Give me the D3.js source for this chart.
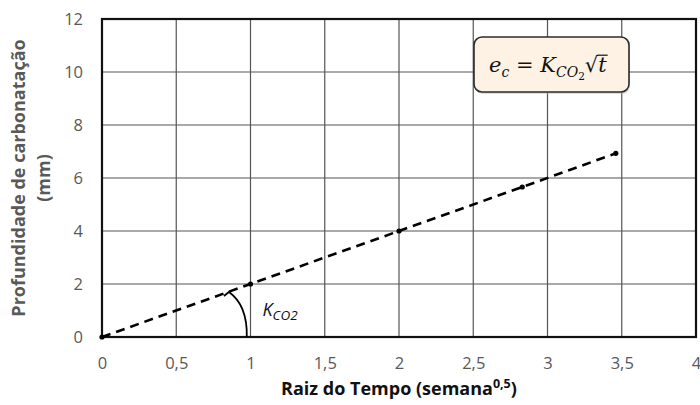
<!DOCTYPE html>
<html>
<head>
<meta charset="utf-8">
<script src="https://cdn.jsdelivr.net/npm/d3@7"></script>
<style>
  html, body { margin: 0; padding: 0; background: #fff; }
  svg { display: block; }
</style>
</head>
<body>
<svg id="chart" width="700" height="405"></svg>
<script>
// Carbonation depth vs. square root of exposure time (weeks)
const sqrtWeeks = [0, 1, 2, 2.83, 3.46];
const depthMm   = [0, 2, 4, 5.66, 6.93];
const xTicks = [0, 0.5, 1, 1.5, 2, 2.5, 3, 3.5, 4];
const yTicks = [0, 2, 4, 6, 8, 10, 12];
const xTickLabels = ["0", "0,5", "1", "1,5", "2", "2,5", "3", "3,5", "4"];

const svg = d3.select("#chart");
const margin = { left: 102, right: 4, top: 19, bottom: 68 };
const W = 700, H = 405;

const x = d3.scaleLinear().domain([0, 4]).range([margin.left, W - margin.right]);
const y = d3.scaleLinear().domain([0, 12]).range([H - margin.bottom, margin.top]);

const font = "'Open Sans', 'Liberation Sans', sans-serif";
const tickColor = "#595959";

// grid
const grid = svg.append("g");
grid.selectAll("line.v").data(xTicks.slice(1, -1)).join("line")
  .attr("x1", d => x(d)).attr("x2", d => x(d))
  .attr("y1", y(0)).attr("y2", y(12))
  .attr("stroke", "#555").attr("stroke-width", 1.2);
grid.selectAll("line.h").data(yTicks.slice(1, -1)).join("line")
  .attr("y1", d => y(d)).attr("y2", d => y(d))
  .attr("x1", x(0)).attr("x2", x(4))
  .attr("stroke", "#555").attr("stroke-width", 1.2);

// frame
svg.append("rect")
  .attr("x", x(0)).attr("y", y(12))
  .attr("width", x(4) - x(0)).attr("height", y(0) - y(12))
  .attr("fill", "none").attr("stroke", "#111").attr("stroke-width", 2.2);

// axes (labels only)
const xAxis = d3.axisBottom(x).tickValues(xTicks)
  .tickFormat((d, i) => xTickLabels[i]).tickSize(0).tickPadding(20);
const gx = svg.append("g").attr("transform", `translate(0,${y(0)})`).call(xAxis);
gx.select(".domain").remove();
gx.selectAll("text").attr("font-family", font).attr("font-size", 16.5).attr("fill", tickColor);

const yAxis = d3.axisLeft(y).tickValues(yTicks).tickSize(0).tickPadding(19);
const gy = svg.append("g").attr("transform", `translate(${x(0)},0)`).call(yAxis);
gy.select(".domain").remove();
gy.selectAll("text").attr("font-family", font).attr("font-size", 16.5).attr("fill", tickColor);

// dashed trend line
const pts = sqrtWeeks.map((v, i) => [v, depthMm[i]]);
svg.append("path")
  .datum(pts)
  .attr("d", d3.line().x(d => x(d[0])).y(d => y(d[1])))
  .attr("fill", "none").attr("stroke", "#000")
  .attr("stroke-width", 2.6).attr("stroke-dasharray", "9,6");
svg.selectAll("circle.pt").data(pts).join("circle")
  .attr("cx", d => x(d[0])).attr("cy", d => y(d[1])).attr("r", 2.6).attr("fill", "#000");

// slope angle marker
const arcStart = [0.975, 0], arcEnd = [0.855, 1.7], arcCtrl = [0.98, 1.2];
svg.append("path")
  .attr("d", `M${x(arcStart[0])},${y(arcStart[1])} Q${x(arcCtrl[0])},${y(arcCtrl[1])} ${x(arcEnd[0])},${y(arcEnd[1])} l-5,4`)
  .attr("fill", "none").attr("stroke", "#000").attr("stroke-width", 1.8);

const kLabel = svg.append("text")
  .attr("x", x(1.08)).attr("y", y(0.78))
  .attr("font-family", font).attr("font-style", "italic").attr("font-size", 18).attr("fill", "#111");
kLabel.append("tspan").text("K");
kLabel.append("tspan").attr("dy", 4).attr("font-size", 13.5).text("CO2");

// equation box
const box = svg.append("g");
box.append("rect")
  .attr("x", 475).attr("y", 39).attr("width", 155).attr("height", 55)
  .attr("rx", 8).attr("fill", "#bbb").attr("opacity", 0.5);
box.append("rect")
  .attr("x", 474).attr("y", 37).attr("width", 155).attr("height", 55)
  .attr("rx", 8).attr("fill", "#FDF2E4").attr("stroke", "#2b2b2b").attr("stroke-width", 1.6);
const eqSize = 21, eqBase = 72;
const eq = box.append("text")
  .attr("x", 489).attr("y", eqBase)
  .attr("font-family", "'DejaVu Serif', 'Liberation Serif', serif").attr("font-size", eqSize).attr("fill", "#111");
eq.append("tspan").attr("font-style", "italic").text("e");
eq.append("tspan").attr("font-style", "italic").attr("font-size", 14).attr("dy", 5).text("c");
eq.append("tspan").attr("dy", -5).text(" = ");
eq.append("tspan").attr("font-style", "italic").text("K");
eq.append("tspan").attr("font-style", "italic").attr("font-size", 14).attr("dy", 5).text("CO");
eq.append("tspan").attr("font-size", 10.5).attr("dy", 3).text("2");
eq.append("tspan").attr("dy", -8).text("\u221A");
eq.append("tspan").attr("font-style", "italic").text("t");
// vinculum over the radicand
const n = eq.node().getNumberOfChars();
const rootStart = eq.node().getEndPositionOfChar(n - 2);
const rootEnd = eq.node().getEndPositionOfChar(n - 1);
box.append("line")
  .attr("x1", rootStart.x - 1).attr("x2", rootEnd.x + 1)
  .attr("y1", eqBase - eqSize * 0.8).attr("y2", eqBase - eqSize * 0.8)
  .attr("stroke", "#111").attr("stroke-width", 1.2);

// axis titles
const xt = svg.append("text")
  .attr("x", (x(0) + x(4)) / 2).attr("y", 395)
  .attr("text-anchor", "middle")
  .attr("font-family", font).attr("font-weight", "bold").attr("font-size", 18).attr("fill", "#111");
xt.append("tspan").text("Raiz do Tempo (semana");
xt.append("tspan").attr("dy", -7).attr("font-size", 12.5).text("0,5");
xt.append("tspan").attr("dy", 7).text(")");

const yt = svg.append("text")
  .attr("transform", `translate(25,${(y(0) + y(12)) / 2}) rotate(-90)`)
  .attr("text-anchor", "middle")
  .attr("font-family", font).attr("font-weight", "bold").attr("font-size", 18).attr("fill", tickColor);
yt.append("tspan").attr("x", 0).attr("dy", 0).text("Profundidade de carbonatação");
yt.append("tspan").attr("x", 0).attr("dy", 25).text("(mm)");
</script>
</body>
</html>
